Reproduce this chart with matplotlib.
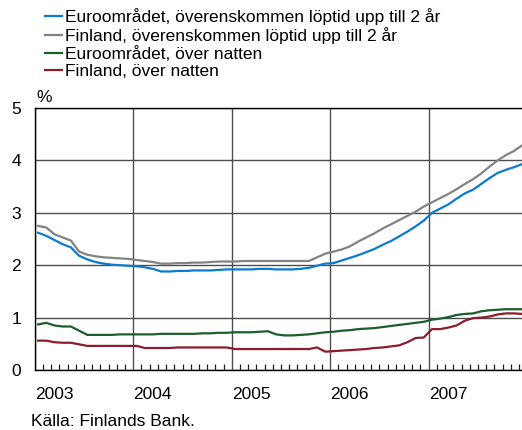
import matplotlib
matplotlib.use("Agg")
import matplotlib.pyplot as plt
from matplotlib.ticker import FixedLocator
import numpy as np

plt.rcParams['font.family'] = ['Liberation Sans', 'DejaVu Sans']

start_year = 2003
n_months = 60
year_labels = ["2003", "2004", "2005", "2006", "2007"]
y_ticks = [0, 1, 2, 3, 4, 5]

labels = [
    "Euroområdet, överenskommen löptid upp till 2 år",
    "Finland, överenskommen löptid upp till 2 år",
    "Euroområdet, över natten",
    "Finland, över natten",
]

euro_2y = [
    2.62, 2.56, 2.48, 2.40, 2.34, 2.18, 2.11, 2.06, 2.03, 2.01, 2.00, 1.99,
    1.98, 1.96, 1.93, 1.88, 1.88, 1.89, 1.89, 1.90, 1.90, 1.90, 1.91, 1.92,
    1.92, 1.92, 1.92, 1.93, 1.93, 1.92, 1.92, 1.92, 1.93, 1.95, 1.99, 2.03,
    2.04, 2.09, 2.14, 2.19, 2.25, 2.31, 2.39, 2.46, 2.55, 2.64, 2.74, 2.85,
    3.00, 3.08, 3.16, 3.27, 3.37, 3.44, 3.55, 3.66, 3.76, 3.82, 3.87, 3.93,
]
fin_2y = [
    2.75, 2.72, 2.59, 2.53, 2.47, 2.26, 2.20, 2.17, 2.15, 2.14, 2.13, 2.12,
    2.10, 2.08, 2.06, 2.03, 2.03, 2.04, 2.04, 2.05, 2.05, 2.06, 2.07, 2.07,
    2.07, 2.08, 2.08, 2.08, 2.08, 2.08, 2.08, 2.08, 2.08, 2.08, 2.15, 2.22,
    2.26, 2.30, 2.36, 2.45, 2.53, 2.61, 2.70, 2.78, 2.86, 2.94, 3.02, 3.12,
    3.20, 3.28, 3.36, 3.45, 3.55, 3.64, 3.75, 3.88, 4.00, 4.10, 4.18, 4.29,
]
euro_on = [
    0.87, 0.90, 0.85, 0.83, 0.83, 0.75, 0.67, 0.67, 0.67, 0.67, 0.68, 0.68,
    0.68, 0.68, 0.68, 0.69, 0.69, 0.69, 0.69, 0.69, 0.70, 0.70, 0.71, 0.71,
    0.72, 0.72, 0.72, 0.73, 0.74, 0.68, 0.66, 0.66, 0.67, 0.68, 0.70, 0.72,
    0.73, 0.75, 0.76, 0.78, 0.79, 0.80, 0.82, 0.84, 0.86, 0.88, 0.90, 0.92,
    0.96, 0.98, 1.01, 1.05, 1.07, 1.08, 1.12, 1.14, 1.15, 1.16, 1.16, 1.16,
]
fin_on = [
    0.56, 0.56, 0.53, 0.52, 0.52, 0.49, 0.46, 0.46, 0.46, 0.46, 0.46, 0.46,
    0.46, 0.42, 0.42, 0.42, 0.42, 0.43, 0.43, 0.43, 0.43, 0.43, 0.43, 0.43,
    0.40, 0.40, 0.40, 0.40, 0.40, 0.40, 0.40, 0.40, 0.40, 0.40, 0.43, 0.35,
    0.36, 0.37, 0.38, 0.39, 0.40, 0.42, 0.43, 0.45, 0.47, 0.53, 0.61, 0.62,
    0.78, 0.78, 0.81, 0.85, 0.94, 0.99, 1.00, 1.02, 1.06, 1.08, 1.08, 1.07,
]

colors = ["#0a7bd0", "#838383", "#1b5e2c", "#8c1c2e"]
series = [euro_2y, fin_2y, euro_on, fin_on]

x = start_year + (np.arange(n_months) + 0.4) / 12.0

FS = 12.5

fig = plt.figure(figsize=(5.22, 4.30), dpi=100)
ax = fig.add_axes([34.8 / 522, 1 - 370 / 430, 1 - 34.8 / 522, (370 - 108) / 430])

lines = []
for s, c, lab in zip(series, colors, labels):
    ln, = ax.plot(x, s, color=c, lw=1.6, label=lab, solid_joinstyle='round', zorder=3)
    lines.append(ln)

ax.set_xlim(2003, 2003 + 487.2 / 98.47)
ax.set_ylim(0, 5)

years = [start_year + k for k in range(len(year_labels))]
ax.xaxis.set_major_locator(FixedLocator(years))
ax.set_xticklabels(year_labels, ha='left')
ax.xaxis.set_minor_locator(FixedLocator([start_year + m / 12 for m in range(61)]))
ax.tick_params(axis='x', which='major', length=0, pad=12, labelsize=FS)
ax.tick_params(axis='x', which='minor', direction='in', length=4, width=0.9, color='#222222')
ax.set_yticks(y_ticks)
ax.tick_params(axis='y', length=0, pad=10, labelsize=FS)

ax.grid(True, which='major', color='#4d4d4d', lw=1.0, zorder=1)
for sp in ['left', 'bottom', 'top']:
    ax.spines[sp].set_color('black')
    ax.spines[sp].set_linewidth(1.0)
ax.spines['right'].set_visible(False)

fig.text(36 / 522, 1 - 98 / 430, "%", fontsize=FS, va='center', ha='left')
fig.text(31 / 522, 1 - 421.5 / 430, "Källa: Finlands Bank.", fontsize=FS, va='center', ha='left')

leg = fig.legend(handles=lines, loc='upper left', bbox_to_anchor=(44.5 / 522, 1 - 8 / 430),
                 frameon=False, fontsize=FS, handlelength=1.0, handletextpad=0.2,
                 labelspacing=0.12, borderpad=0, borderaxespad=0)

fig.savefig("out.png", dpi=100)
